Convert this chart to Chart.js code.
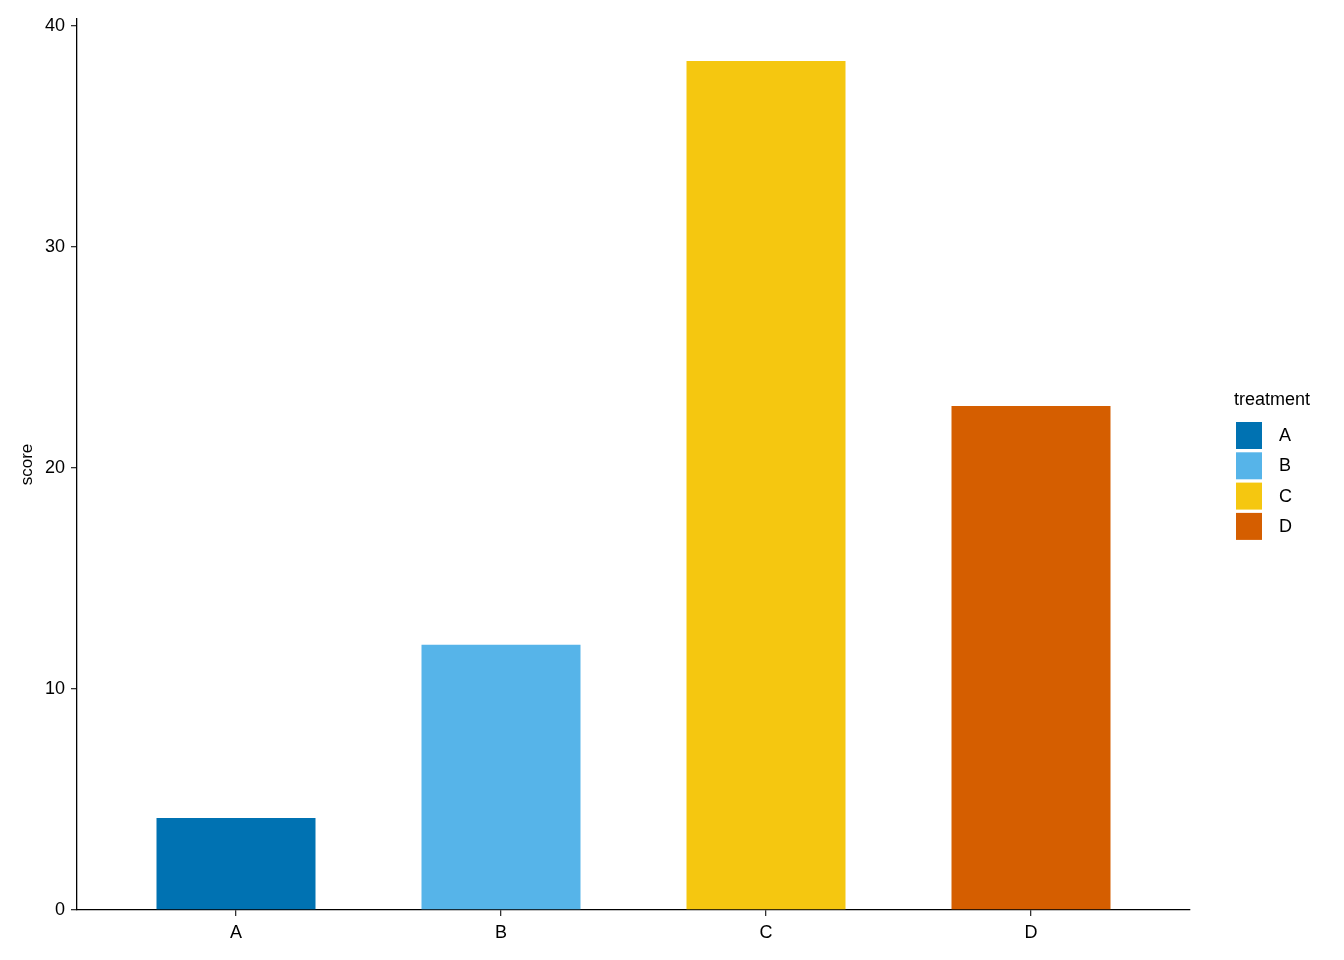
<!DOCTYPE html>
<html lang="en">
<head>
<meta charset="UTF-8">
<title>Score by treatment</title>
<script src="https://cdn.jsdelivr.net/npm/chart.js"></script>
<style>
  html, body { margin: 0; padding: 0; background: #ffffff; }
  #wrap { width: 1344px; height: 960px; }
</style>
</head>
<body>
<div id="wrap"><canvas id="barChart" width="1344" height="960"></canvas></div>
<script>
// values
const categories = ['A', 'B', 'C', 'D'];
const scores = [4.16, 12.0, 38.4, 22.8];
const barColors = ['#0072B2', '#56B4E9', '#F5C710', '#D55E00'];
const yTicks = [0, 10, 20, 30, 40];
const legendTitle = 'treatment';

const FONT = '"Liberation Sans", Arial, sans-serif';

// ggplot-like legend drawn on the canvas to the right of the plot
const sideLegend = {
  id: 'sideLegend',
  afterDraw(chart) {
    const ctx = chart.ctx;
    ctx.save();
    ctx.fillStyle = '#000';
    ctx.font = '18px ' + FONT;
    ctx.textBaseline = 'alphabetic';
    ctx.textAlign = 'left';
    ctx.fillText(legendTitle, 1234, 405);
    categories.forEach((c, i) => {
      const y = 422 + i * 30.3;
      ctx.fillStyle = barColors[i];
      ctx.fillRect(1236, y, 26, 27);
      ctx.fillStyle = '#000';
      ctx.textBaseline = 'middle';
      ctx.fillText(c, 1279, y + 14);
    });
    ctx.restore();
  }
};

const ctx = document.getElementById('barChart').getContext('2d');
new Chart(ctx, {
  type: 'bar',
  data: {
    datasets: [{
      data: categories.map((c, i) => ({ x: i, y: scores[i] })),
      backgroundColor: barColors,
      borderWidth: 0,
      categoryPercentage: 0.6,
      barPercentage: 1.0
    }]
  },
  options: {
    responsive: false,
    animation: false,
    events: [],
    layout: { padding: { top: 19, right: 154, left: 0, bottom: 0 } },
    plugins: { legend: { display: false }, tooltip: { enabled: false } },
    scales: {
      x: {
        type: 'linear',
        min: -0.6,
        max: 3.6,
        offset: false,
        afterBuildTicks: s => { s.ticks = categories.map((c, i) => ({ value: i })); },
        afterFit: s => { s.height = 50; },
        ticks: {
          callback: v => categories[v],
          color: '#000',
          font: { family: FONT, size: 18 },
          padding: 6
        },
        grid: { offset: false, drawOnChartArea: false, drawTicks: true, tickLength: 6, color: '#333', lineWidth: 1.3 },
        border: { color: '#000', width: 1.3 }
      },
      y: {
        min: 0,
        max: 40.3,
        afterBuildTicks: s => { s.ticks = yTicks.map(v => ({ value: v })); },
        afterFit: s => { s.width = 77; },
        ticks: {
          color: '#000',
          font: { family: FONT, size: 18 },
          padding: 6
        },
        title: {
          display: true,
          text: 'score',
          color: '#000',
          font: { family: FONT, size: 17 },
          padding: { top: 17, bottom: 0 }
        },
        grid: { drawOnChartArea: false, drawTicks: true, tickLength: 6, color: '#333', lineWidth: 1.3 },
        border: { color: '#000', width: 1.3 }
      }
    }
  },
  plugins: [sideLegend]
});
</script>
</body>
</html>
